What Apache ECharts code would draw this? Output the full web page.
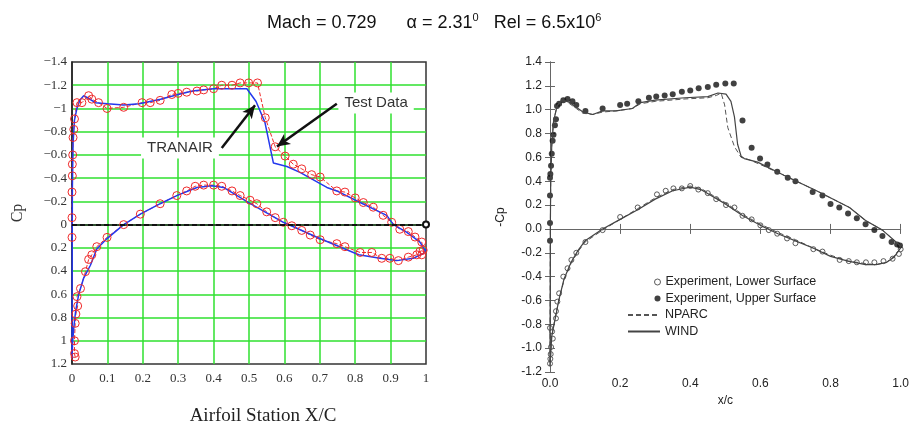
<!DOCTYPE html>
<html><head><meta charset="utf-8">
<script src="https://cdn.jsdelivr.net/npm/echarts@6/dist/echarts.min.js"></script>
<style>html,body{margin:0;padding:0;background:#fff}#c{width:912px;height:431px}</style>
</head><body><div id="c"></div>
<script>
// ---------- Left panel (TRANAIR vs Test Data, Cp) ----------
const tranairUpperX  = [0, 0.0003, 0.001, 0.003, 0.007, 0.014, 0.022, 0.033, 0.045, 0.066, 0.1, 0.146, 0.19, 0.25, 0.3, 0.34, 0.4, 0.494, 0.52, 0.545, 0.569, 0.607, 0.644, 0.72, 0.748, 0.814, 0.889, 0.908, 0.945, 0.983, 0.997, 1.0];
const tranairUpperCp = [1.15, 0.6, -0.3, -0.7, -0.9, -1.0, -1.07, -1.11, -1.09, -1.05, -1.04, -1.03, -1.04, -1.08, -1.12, -1.15, -1.17, -1.17, -1.06, -0.88, -0.53, -0.50, -0.45, -0.32, -0.29, -0.19, -0.08, 0.0, 0.065, 0.15, 0.22, 0.21];
const tranairLowerX  = [0, 0.002, 0.005, 0.01, 0.019, 0.033, 0.052, 0.07, 0.099, 0.146, 0.193, 0.249, 0.296, 0.353, 0.395, 0.428, 0.499, 0.597, 0.70, 0.81, 0.87, 0.917, 0.964, 0.992, 1.0];
const tranairLowerCp = [1.15, 1.0, 0.89, 0.75, 0.60, 0.46, 0.35, 0.21, 0.12, 0.0, -0.09, -0.18, -0.25, -0.32, -0.335, -0.32, -0.19, -0.02, 0.12, 0.26, 0.29, 0.31, 0.29, 0.25, 0.21];

const testUpperX  = [0.0, 0.0, 0.0, 0.001, 0.001, 0.002, 0.003, 0.005, 0.007, 0.014, 0.028, 0.047, 0.056, 0.075, 0.099, 0.146, 0.198, 0.221, 0.249, 0.282, 0.3, 0.324, 0.353, 0.372, 0.4, 0.423, 0.452, 0.475, 0.499, 0.524, 0.546, 0.574, 0.602, 0.625, 0.649, 0.677, 0.701, 0.748, 0.771, 0.8, 0.823, 0.851, 0.879, 0.903, 0.926, 0.95, 0.969, 0.988, 0.992];
const testUpperCp = [0.11, -0.06, -0.28, -0.42, -0.52, -0.6, -0.75, -0.82, -0.91, -1.05, -1.05, -1.11, -1.08, -1.05, -1.0, -1.01, -1.05, -1.05, -1.07, -1.12, -1.13, -1.14, -1.15, -1.16, -1.17, -1.2, -1.2, -1.22, -1.22, -1.22, -0.92, -0.67, -0.59, -0.52, -0.48, -0.43, -0.41, -0.29, -0.28, -0.23, -0.19, -0.15, -0.08, -0.02, 0.04, 0.06, 0.107, 0.15, 0.22];
const testLowerX  = [0.009, 0.007, 0.007, 0.009, 0.011, 0.016, 0.014, 0.024, 0.038, 0.047, 0.056, 0.07, 0.099, 0.146, 0.193, 0.249, 0.296, 0.324, 0.348, 0.372, 0.4, 0.423, 0.452, 0.475, 0.503, 0.522, 0.55, 0.574, 0.597, 0.621, 0.649, 0.673, 0.701, 0.748, 0.771, 0.814, 0.847, 0.875, 0.898, 0.922, 0.95, 0.974, 0.983, 0.988];
const testLowerCp = [1.14, 1.11, 1.0, 0.85, 0.77, 0.7, 0.62, 0.55, 0.405, 0.3, 0.26, 0.19, 0.11, 0.0, -0.09, -0.18, -0.25, -0.29, -0.33, -0.34, -0.34, -0.33, -0.29, -0.25, -0.21, -0.18, -0.11, -0.06, -0.02, 0.01, 0.05, 0.09, 0.13, 0.164, 0.19, 0.24, 0.24, 0.29, 0.29, 0.31, 0.28, 0.26, 0.23, 0.26];

// annotation anchors (data coords)
const tranairLabelAt = [0.305, -0.66];
const testLabelAt    = [0.859, -1.048];
const tranairArrow   = [[0.423, -0.659], [0.517, -1.027]];
const testArrow      = [[0.748, -1.04], [0.579, -0.672]];

// ---------- Right panel (NPARC / WIND vs experiment, -Cp) ----------
const expUpperX  = [0, 0, 0, 0.0, 0.001, 0.003, 0.005, 0.0075, 0.01, 0.014, 0.017, 0.02, 0.026, 0.038, 0.05, 0.064, 0.075, 0.101, 0.15, 0.2, 0.22, 0.252, 0.282, 0.303, 0.327, 0.35, 0.376, 0.4, 0.424, 0.45, 0.474, 0.5, 0.524, 0.549, 0.575, 0.599, 0.62, 0.648, 0.678, 0.7, 0.749, 0.777, 0.8, 0.825, 0.85, 0.875, 0.9, 0.925, 0.948, 0.974, 0.99, 0.998];
const expUpperCp = [-0.1, 0.05, 0.28, 0.43, 0.46, 0.53, 0.63, 0.74, 0.79, 0.87, 0.92, 1.03, 1.05, 1.08, 1.09, 1.07, 1.04, 0.99, 1.01, 1.04, 1.05, 1.07, 1.10, 1.11, 1.12, 1.13, 1.15, 1.16, 1.18, 1.19, 1.21, 1.22, 1.22, 0.91, 0.68, 0.59, 0.54, 0.48, 0.43, 0.40, 0.31, 0.28, 0.21, 0.18, 0.13, 0.09, 0.04, -0.01, -0.06, -0.11, -0.13, -0.14];
const expLowerX  = [0.0, 0.001, 0.002, 0.003, 0.008, 0.006, 0.0, 0.017, 0.017, 0.021, 0.026, 0.038, 0.05, 0.061, 0.075, 0.101, 0.15, 0.2, 0.25, 0.305, 0.33, 0.352, 0.376, 0.4, 0.423, 0.45, 0.474, 0.502, 0.526, 0.549, 0.575, 0.6, 0.624, 0.648, 0.676, 0.7, 0.751, 0.777, 0.826, 0.852, 0.875, 0.901, 0.925, 0.951, 0.977, 0.995, 1.0];
const expLowerCp = [-1.13, -1.09, -1.05, -0.99, -0.92, -0.86, -0.83, -0.75, -0.69, -0.61, -0.54, -0.40, -0.33, -0.26, -0.2, -0.11, -0.01, 0.1, 0.18, 0.29, 0.32, 0.34, 0.34, 0.36, 0.33, 0.30, 0.25, 0.20, 0.18, 0.11, 0.08, 0.03, -0.01, -0.04, -0.08, -0.12, -0.17, -0.19, -0.26, -0.27, -0.28, -0.28, -0.28, -0.27, -0.25, -0.21, -0.17];

const windUpperX  = [0, 0.001, 0.002, 0.005, 0.01, 0.02, 0.03, 0.038, 0.056, 0.075, 0.094, 0.122, 0.15, 0.188, 0.235, 0.258, 0.3, 0.385, 0.45, 0.479, 0.502, 0.516, 0.526, 0.535, 0.545, 0.554, 0.592, 0.667, 0.76, 0.854, 0.9, 0.948, 0.995, 1.0];
const windUpperCp = [-1.12, 0.0, 0.4, 0.7, 0.9, 1.03, 1.07, 1.08, 1.06, 1.02, 0.98, 0.96, 0.99, 0.99, 1.01, 1.06, 1.08, 1.10, 1.11, 1.14, 1.13, 1.07, 0.94, 0.71, 0.61, 0.59, 0.56, 0.45, 0.32, 0.18, 0.07, -0.01, -0.13, -0.15];
const nparcUpperX  = [0, 0.001, 0.002, 0.005, 0.01, 0.02, 0.03, 0.038, 0.056, 0.075, 0.094, 0.122, 0.15, 0.188, 0.235, 0.258, 0.3, 0.385, 0.45, 0.475, 0.488, 0.498, 0.507, 0.526, 0.545, 0.568, 0.6, 0.667, 0.76, 0.854, 0.9, 0.948, 0.995, 1.0];
const nparcUpperCp = [-1.12, 0.0, 0.4, 0.7, 0.9, 1.03, 1.07, 1.08, 1.05, 1.01, 0.97, 0.96, 0.98, 0.99, 1.01, 1.05, 1.07, 1.09, 1.10, 1.12, 1.14, 1.04, 0.85, 0.69, 0.60, 0.58, 0.54, 0.45, 0.32, 0.18, 0.07, -0.01, -0.13, -0.15];
const windLowerX  = [0, 0.005, 0.015, 0.025, 0.04, 0.06, 0.08, 0.1, 0.15, 0.2, 0.25, 0.3, 0.35, 0.4, 0.43, 0.5, 0.55, 0.6, 0.65, 0.7, 0.75, 0.8, 0.85, 0.9, 0.93, 0.96, 0.98, 1.0];
const windLowerCp = [-1.15, -0.9, -0.75, -0.6, -0.42, -0.28, -0.18, -0.1, 0.0, 0.08, 0.16, 0.25, 0.32, 0.35, 0.33, 0.21, 0.11, 0.03, -0.04, -0.1, -0.16, -0.23, -0.27, -0.3, -0.3, -0.28, -0.24, -0.16];
const nparcLowerX  = [0, 0.005, 0.015, 0.025, 0.04, 0.06, 0.08, 0.1, 0.15, 0.2, 0.25, 0.3, 0.35, 0.4, 0.43, 0.5, 0.55, 0.6, 0.65, 0.7, 0.75, 0.8, 0.85, 0.9, 0.93, 0.96, 0.98, 1.0];
const nparcLowerCp = [-1.15, -0.9, -0.74, -0.6, -0.43, -0.29, -0.19, -0.11, -0.01, 0.08, 0.17, 0.26, 0.33, 0.36, 0.34, 0.22, 0.12, 0.04, -0.03, -0.09, -0.16, -0.22, -0.27, -0.29, -0.3, -0.28, -0.23, -0.16];

const pts = (xs, ys) => xs.map((x, i) => [x, ys[i]]);

const RED = '#f02a2a', BLUE = '#2438ee', GREEN = '#2fe02f';
const SERIF = 'Liberation Serif', SANS = 'Liberation Sans';
const HIDDEN = { color: 'rgba(0,0,0,0)', borderColor: 'rgba(0,0,0,0)', borderWidth: 0 };

const chart = echarts.init(document.getElementById('c'));
chart.setOption({
  animation: false,
  backgroundColor: '#fff',
  title: {
    left: 262, top: 7,
    text: '{t|Mach = 0.729}      {t|α = 2.31}{s|0}   {t|Rel = 6.5x10}{s|6}',
    textStyle: {
      fontFamily: SANS, fontWeight: 'normal', color: '#111', fontSize: 18,
      rich: {
        t: { fontFamily: SANS, fontSize: 18, color: '#111', lineHeight: 22 },
        s: { fontFamily: SANS, fontSize: 11, color: '#111', lineHeight: 22, verticalAlign: 'top', padding: [0, 0, 8, 0] }
      }
    }
  },
  legend: [
    {
      orient: 'vertical', left: 654, top: 275, padding: 0,
      itemWidth: 6, itemHeight: 6, itemGap: 2.5, selectedMode: false,
      textStyle: { fontFamily: SANS, fontSize: 12.5, color: '#222', lineHeight: 14 },
      data: [
        { name: 'Experiment, Lower Surface', icon: 'circle', itemStyle: { color: '#fff', borderColor: '#333', borderWidth: 1 } },
        { name: 'Experiment, Upper Surface', icon: 'circle', itemStyle: { color: '#111' } }
      ]
    },
    {
      orient: 'vertical', left: 627, top: 308, padding: 0,
      itemWidth: 32, itemHeight: 10, itemGap: 2.5, selectedMode: false,
      textStyle: { fontFamily: SANS, fontSize: 12.5, color: '#222', lineHeight: 14 },
      data: [
        { name: 'NPARC', itemStyle: HIDDEN },
        { name: 'WIND', itemStyle: HIDDEN }
      ]
    }
  ],
  grid: [
    { left: 72, top: 62, width: 354, height: 305, show: true, borderColor: '#333', borderWidth: 1.5, backgroundColor: 'transparent' },
    { left: 550, top: 62, width: 355, height: 310 }
  ],
  xAxis: [
    {
      gridIndex: 0, type: 'value', min: 0, max: 1, interval: 0.1,
      name: 'Airfoil Station X/C', nameLocation: 'middle', nameGap: 43,
      nameTextStyle: { fontFamily: SERIF, fontSize: 19, color: '#222', padding: [0, 0, 0, 28] },
      axisLine: { lineStyle: { color: '#222', width: 1.5 } },
      axisTick: { show: false },
      axisLabel: { fontFamily: SERIF, fontSize: 13, color: '#333', margin: 8 },
      splitLine: { show: true, showMinLine: false, showMaxLine: false, lineStyle: { color: GREEN, width: 1.5 } }
    },
    {
      gridIndex: 1, type: 'value', min: 0, max: 1, interval: 0.2,
      name: 'x/c', nameLocation: 'middle', nameGap: 23,
      nameTextStyle: { fontFamily: SANS, fontSize: 12, color: '#222' },
      axisLine: { lineStyle: { color: '#666', width: 1 } },
      axisTick: { inside: true, length: 5, lineStyle: { color: '#666' } },
      axisLabel: { fontFamily: SANS, fontSize: 12, color: '#222', margin: 6, formatter: v => v.toFixed(1) },
      splitLine: { show: false }
    },
    {
      gridIndex: 1, type: 'value', min: 0, max: 1, interval: 0.2, position: 'top',
      axisLine: { lineStyle: { color: '#666', width: 1 } },
      axisTick: { inside: true, length: 5, lineStyle: { color: '#666' } },
      axisLabel: { show: false }, splitLine: { show: false }
    }
  ],
  yAxis: [
    {
      gridIndex: 0, type: 'value', min: -1.4, max: 1.2, interval: 0.2, inverse: true,
      name: 'Cp', nameLocation: 'middle', nameGap: 46,
      nameTextStyle: { fontFamily: SERIF, fontSize: 16, color: '#333' },
      axisLine: { lineStyle: { color: '#222', width: 1.5 } },
      axisTick: { show: false },
      axisLabel: { fontFamily: SERIF, fontSize: 13, color: '#333', margin: 5, formatter: v => String(+v.toFixed(1)).replace('-', '\u2212') },
      splitLine: { show: true, showMinLine: false, showMaxLine: false, lineStyle: { color: GREEN, width: 1.5 } }
    },
    {
      gridIndex: 1, type: 'value', min: -1.2, max: 1.4, interval: 0.2,
      name: '-Cp', nameLocation: 'middle', nameGap: 43,
      nameTextStyle: { fontFamily: SANS, fontSize: 12, color: '#222' },
      axisLine: { lineStyle: { color: '#666', width: 1 } },
      axisTick: { inside: true, length: 5, lineStyle: { color: '#666' } },
      axisLabel: { fontFamily: SANS, fontSize: 12, color: '#222', margin: 8, formatter: v => v.toFixed(1) },
      splitLine: { show: false }
    },
    {
      gridIndex: 1, type: 'value', min: -1.2, max: 1.4, interval: 0.2, position: 'right',
      axisLine: { lineStyle: { color: '#666', width: 1 } },
      axisTick: { inside: true, length: 5, lineStyle: { color: '#666' } },
      axisLabel: { show: false }, splitLine: { show: false }
    }
  ],
  series: [
    // ----- left panel -----
    {
      name: 'Test Data', type: 'line', xAxisIndex: 0, yAxisIndex: 0,
      data: pts(testUpperX, testUpperCp),
      symbol: 'circle', symbolSize: 8,
      itemStyle: { color: 'rgba(0,0,0,0)', borderColor: RED, borderWidth: 1 },
      lineStyle: { color: RED, width: 1, type: [4, 2] }
    },
    {
      name: 'Test Data', type: 'line', xAxisIndex: 0, yAxisIndex: 0,
      data: pts(testLowerX, testLowerCp),
      symbol: 'circle', symbolSize: 8,
      itemStyle: { color: 'rgba(0,0,0,0)', borderColor: RED, borderWidth: 1 },
      lineStyle: { color: RED, width: 1, type: [4, 2] },
      markLine: {
        silent: true, symbol: ['none', 'emptyCircle'], symbolSize: 6,
        label: { show: false },
        lineStyle: { color: '#111', width: 2, type: [5, 3] },
        itemStyle: { color: '#333' },
        data: [{ yAxis: 0 }]
      }
    },
    {
      name: 'TRANAIR', type: 'line', xAxisIndex: 0, yAxisIndex: 0,
      data: pts(tranairUpperX, tranairUpperCp), symbol: 'none',
      lineStyle: { color: BLUE, width: 1.5 },
      markLine: {
        silent: true, symbol: ['none', 'arrow'], symbolSize: [9, 13],
        label: { show: false },
        lineStyle: { color: '#111', width: 2.5, type: 'solid' },
        data: [
          [{ coord: tranairArrow[0] }, { coord: tranairArrow[1] }],
          [{ coord: testArrow[0] }, { coord: testArrow[1] }]
        ]
      },
      markPoint: {
        silent: true, symbol: 'rect', symbolSize: 1,
        itemStyle: { color: 'rgba(0,0,0,0)' },
        label: {
          show: true, position: 'inside', formatter: '{b}',
          fontFamily: SANS, fontSize: 15, color: '#333',
          backgroundColor: '#fff', padding: [3, 6]
        },
        data: [
          { name: 'TRANAIR', coord: tranairLabelAt },
          { name: 'Test Data', coord: testLabelAt }
        ]
      }
    },
    {
      name: 'TRANAIR', type: 'line', xAxisIndex: 0, yAxisIndex: 0,
      data: pts(tranairLowerX, tranairLowerCp), symbol: 'none',
      lineStyle: { color: BLUE, width: 1.5 }
    },
    // ----- right panel -----
    {
      name: 'NPARC', type: 'line', xAxisIndex: 1, yAxisIndex: 1,
      data: pts(nparcUpperX, nparcUpperCp), symbol: 'none',
      itemStyle: { color: '#555' },
      lineStyle: { color: '#555', width: 1, type: [5, 3] }
    },
    {
      name: 'NPARC', type: 'line', xAxisIndex: 1, yAxisIndex: 1,
      data: pts(nparcLowerX, nparcLowerCp), symbol: 'none',
      itemStyle: { color: '#555' },
      lineStyle: { color: '#555', width: 1, type: [5, 3] }
    },
    {
      name: 'WIND', type: 'line', xAxisIndex: 1, yAxisIndex: 1,
      data: pts(windUpperX, windUpperCp), symbol: 'none',
      itemStyle: { color: '#444' },
      lineStyle: { color: '#444', width: 1.2 }
    },
    {
      name: 'WIND', type: 'line', xAxisIndex: 1, yAxisIndex: 1,
      data: pts(windLowerX, windLowerCp), symbol: 'none',
      itemStyle: { color: '#444' },
      lineStyle: { color: '#444', width: 1.2 }
    },
    {
      name: 'Experiment, Lower Surface', type: 'scatter', xAxisIndex: 1, yAxisIndex: 1,
      data: pts(expLowerX, expLowerCp), symbol: 'circle', symbolSize: 5,
      itemStyle: { color: '#fff', borderColor: '#333', borderWidth: 1 }
    },
    {
      name: 'Experiment, Upper Surface', type: 'scatter', xAxisIndex: 1, yAxisIndex: 1,
      data: pts(expUpperX, expUpperCp), symbol: 'circle', symbolSize: 6,
      itemStyle: { color: '#111' }
    }
  ]
});
</script>
</body></html>
